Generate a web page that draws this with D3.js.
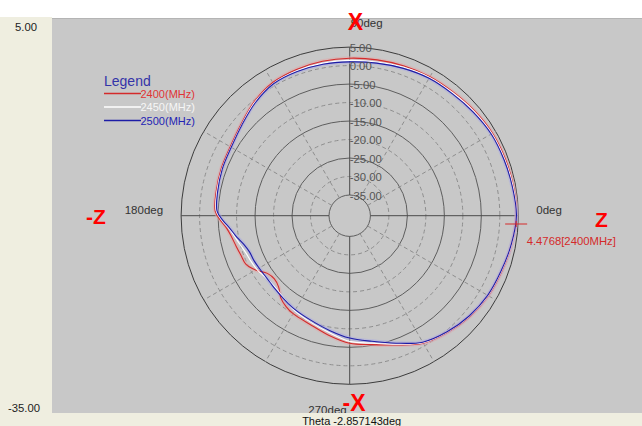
<!DOCTYPE html>
<html><head><meta charset="utf-8">
<script src="https://cdn.jsdelivr.net/npm/d3@7"></script>
<style>body{margin:0;background:#fff}svg{display:block}text{font-family:"Liberation Sans",Arial,sans-serif}</style>
</head><body><svg id="c" width="642" height="426"></svg>
<script>
// ---- data ----
const angles = [0,10,20,30,40,50,60,70,80,90,100,110,120,130,140,150,160,170,178,182,186,190,195,200,205,210,215,220,225,230,235,240,250,260,270,280,290,300,310,320,330,340,350];
const series2400 = [4.5,4.4,4.2,4.0,3.5,3.0,2.8,2.5,2.2,2.0,1.8,1.5,1.0,-0.4,-2.2,-3.3,-3.6,-3.9,-4.2,-5.6,-7.2,-8.1,-8.8,-9.3,-9.6,-11.2,-13.4,-14.0,-13.4,-11.6,-10.6,-10.0,-9.3,-7.8,-6.1,-5.2,-3.4,-0.8,0.6,1.8,2.7,3.2,3.9];
const series2450 = [4.5,4.3,4.0,3.8,3.3,2.8,2.6,2.1,1.6,1.4,1.3,1.1,0.7,-0.6,-2.4,-3.5,-3.8,-4.1,-4.5,-6.0,-7.8,-8.9,-10.0,-10.8,-11.2,-11.6,-12.2,-12.6,-12.6,-12.2,-11.6,-10.9,-9.9,-8.5,-6.6,-5.6,-3.6,-0.9,0.5,1.7,2.6,3.1,3.9];
const series2500 = [4.5,4.1,3.8,3.6,3.0,2.5,2.3,1.8,1.3,1.0,1.0,0.9,0.6,-0.8,-2.5,-3.6,-3.9,-4.3,-4.7,-6.2,-8.0,-9.3,-10.9,-11.8,-12.0,-12.3,-12.5,-12.5,-12.3,-12.0,-11.6,-11.2,-10.4,-9.1,-7.5,-6.1,-3.9,-1.1,0.4,1.6,2.5,3.0,3.8];
const seriesNames = ["2400(MHz)","2450(MHz)","2500(MHz)"];
const ringValues = [5,0,-5,-10,-15,-20,-25,-30,-35];
const spokeAngles = [30,60,120,150,210,240,300,330];
const degLabels = ["0deg","90deg","180deg","270deg"];
const axisLabels = ["Z","X","-Z","-X"];
const sideScale = ["5.00","-35.00"];
const markerValue = 4.4768, markerTheta = -2.857143;
const markerText = "4.4768[2400MHz]";
const thetaText = "Theta -2.857143deg";

// ---- layout ----
const W = 642, H = 426, cx = 349.7, cy = 215.7;
const svg = d3.select("#c");
const r = d3.scaleLinear().domain([-35, 5]).range([20.7, 168.6]);
const rad = d => d * Math.PI / 180;
const px = (deg, v) => cx + r(v) * Math.cos(rad(deg));
const py = (deg, v) => cy - r(v) * Math.sin(rad(deg));

// backgrounds
svg.append("rect").attr("x",0).attr("y",0).attr("width",W).attr("height",H).attr("fill","#ffffff");
svg.append("rect").attr("x",0).attr("y",17).attr("width",52).attr("height",H-17).attr("fill","#efeee0");
svg.append("rect").attr("x",52).attr("y",18).attr("width",W-52).attr("height",395).attr("fill","#c8c8c8");
svg.append("line").attr("x1",52).attr("x2",W).attr("y1",18.5).attr("y2",18.5).attr("stroke","#b4b4b4");

const g = svg.append("g").attr("transform", `translate(${cx},${cy})`);

// rings
ringValues.forEach((v, i) => {
  g.append("circle").attr("r", r(v)).attr("fill", v === -35 ? "#c8c8c8" : "none")
    .attr("stroke", i % 2 === 0 ? (v === 5 ? "#3c3c3c" : "#5e5e5e") : "#8e8e8e")
    .attr("stroke-width", 1)
    .attr("stroke-dasharray", i % 2 === 0 ? null : "4,3");
});
// spokes
spokeAngles.forEach(a => {
  g.append("line")
    .attr("x1", r(-35) * Math.cos(rad(a))).attr("y1", -r(-35) * Math.sin(rad(a)))
    .attr("x2", r(5) * Math.cos(rad(a))).attr("y2", -r(5) * Math.sin(rad(a)))
    .attr("stroke", "#8e8e8e").attr("stroke-dasharray", "4,3");
});
// main axes
[0, 90, 180, 270].forEach(a => {
  g.append("line")
    .attr("x1", r(-35) * Math.cos(rad(a))).attr("y1", -r(-35) * Math.sin(rad(a)))
    .attr("x2", r(5) * Math.cos(rad(a))).attr("y2", -r(5) * Math.sin(rad(a)))
    .attr("stroke", "#4a4a4a");
});

// curves
const line = d3.lineRadial()
  .angle(d => Math.PI / 2 - rad(d[0]))
  .radius(d => r(d[1]))
  .curve(d3.curveCatmullRomClosed);
const mk = vals => angles.map((a, i) => [a, vals[i]]);
const curves = [
  {vals: series2400, col: "#d42a2a", halo: "#e4a6a6"},
  {vals: series2450, col: "#ffffff", halo: null},
  {vals: series2500, col: "#1c1ca6", halo: "#a9a9e6"}
];
curves.forEach(c => {
  if (c.halo) g.append("path").attr("d", line(mk(c.vals))).attr("fill","none")
    .attr("stroke", c.halo).attr("stroke-width", 4).attr("opacity", 0.5);
});
curves.forEach(c => {
  g.append("path").attr("d", line(mk(c.vals))).attr("fill","none")
    .attr("stroke", c.col).attr("stroke-width", 1.1);
});

// ring labels
ringValues.forEach(v => {
  g.append("text").attr("x", 0).attr("y", -r(v) + 4.5)
    .attr("font-size", 11.3).attr("fill", "#555").text(d3.format(".2f")(v).replace("−","-"));
});

// degree labels
const degPos = [
  {x: cx + r(5) + 18, y: 214, anchor: "start"},
  {x: cx + 1, y: 27, anchor: "start"},
  {x: cx - r(5) - 18, y: 214, anchor: "end"},
  {x: cx - 3, y: 414, anchor: "end"}
];
degLabels.forEach((t, i) => {
  svg.append("text").attr("x", degPos[i].x).attr("y", degPos[i].y)
    .attr("text-anchor", degPos[i].anchor).attr("font-size", 11.5).attr("fill", "#333").text(t);
});

// side scale labels
svg.append("text").attr("x", 15).attr("y", 31).attr("font-size", 11.3).attr("fill", "#222").text(sideScale[0]);
svg.append("text").attr("x", 8).attr("y", 412).attr("font-size", 11.3).attr("fill", "#222").text(sideScale[1]);

// bottom strip (covers lower part of 270deg)
svg.append("rect").attr("x",0).attr("y",413).attr("width",W).attr("height",13).attr("fill","#efeee0");
svg.append("text").attr("x", cx + 2).attr("y", 425).attr("text-anchor","middle")
  .attr("font-size", 11).attr("fill", "#111").text(thetaText);

// big axis letters
const axPos = [
  {x: 601.5, y: 227, size: 21},
  {x: 355.5, y: 30, size: 23},
  {x: 96, y: 224, size: 21},
  {x: 354, y: 411, size: 23}
];
axisLabels.forEach((t, i) => {
  svg.append("text").attr("x", axPos[i].x).attr("y", axPos[i].y).attr("text-anchor","middle")
    .attr("font-size", axPos[i].size).attr("font-weight", "bold").attr("fill", "#ff0000").text(t);
});

// marker
const mx = px(markerTheta, markerValue), my = py(markerTheta, markerValue);
svg.append("line").attr("x1", mx - 11).attr("x2", mx + 11).attr("y1", my).attr("y2", my).attr("stroke", "#d42a2a");
svg.append("line").attr("x1", mx).attr("x2", mx).attr("y1", my - 3).attr("y2", my + 3).attr("stroke", "#d42a2a");
svg.append("text").attr("x", mx + 10.5).attr("y", my + 21).attr("font-size", 11.3).attr("fill", "#d42a2a").text(markerText);

// legend
svg.append("text").attr("x", 104).attr("y", 85.5).attr("font-size", 14).attr("fill", "#3434a8").text("Legend");
const legCols = ["#e03434", "#f6f6f6", "#2424b4"];
const legLine = ["#d42a2a", "#ffffff", "#1c1ca6"];
seriesNames.forEach((n, i) => {
  const y = 93.5 + i * 13.5;
  svg.append("line").attr("x1", 104).attr("x2", 141).attr("y1", y).attr("y2", y).attr("stroke", legLine[i]).attr("stroke-width", 1.3);
  svg.append("text").attr("x", 140.5).attr("y", y + 4).attr("font-size", 11).attr("fill", legCols[i]).text(n);
});
</script></body></html>
